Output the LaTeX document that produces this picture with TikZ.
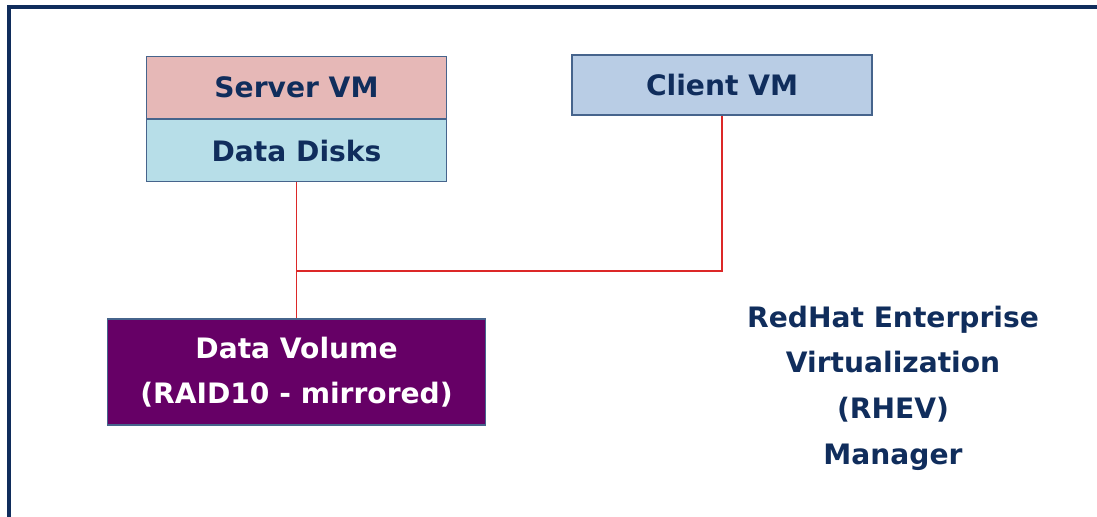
\documentclass[tikz,border=0pt]{standalone}
\usepackage{fontspec}
\setmainfont{DejaVu Sans}
\usepackage{xcolor}
\usetikzlibrary{positioning}

\definecolor{navy}{RGB}{16,45,92}
\definecolor{boxline}{RGB}{70,100,140}
\definecolor{serverfill}{RGB}{230,184,183}
\definecolor{diskfill}{RGB}{183,222,232}
\definecolor{clientfill}{RGB}{185,205,229}
\definecolor{volumefill}{RGB}{102,0,102}
\definecolor{linkred}{RGB}{220,40,40}

\tikzset{
  vmbox/.style={draw=boxline, line width=0.8pt, text=navy, font=\bfseries\fontsize{20}{32}\selectfont,
    minimum width=7.48cm, minimum height=1.55cm, inner sep=0pt, align=center},
  link/.style={linkred, line width=0.8pt}
}

\begin{document}
\begin{tikzpicture}[x=0.025cm, y=-0.025cm]
    \useasboundingbox (0,0) rectangle (1097,516);

    % Frame, running off the right and bottom edges
    \begin{scope}
        \clip (0,0) rectangle (1097,516);
        \draw[navy, line width=3.4pt] (9,7) rectangle (1120,540);
    \end{scope}

    % Server VM with its data disks underneath
    \node[vmbox, fill=serverfill] (server) at (296.5,87.5) {Server VM};
    \node[vmbox, fill=diskfill, below=0pt of server] (disks) {Data Disks};

    % Client VM
    \node[vmbox, fill=clientfill, minimum width=7.5cm, minimum height=1.5cm] (client) at (722,85) {Client VM};

    % Storage volume
    \node[vmbox, fill=volumefill, text=white, minimum width=9.43cm, minimum height=2.65cm] (volume) at (296.5,372)
        {Data Volume\\(RAID10 - mirrored)};

    % Manager label
    \node[text=navy, font=\bfseries\fontsize{20}{32.5}\selectfont, align=center] (manager) at (893,388)
        {RedHat Enterprise\\Virtualization\\(RHEV)\\Manager};

    % Links
    \coordinate (join) at (296.5,271);
    \draw[link] (disks.south) -- (volume.north);
    \draw[link] (client.south) |- (join);
\end{tikzpicture}
\end{document}
